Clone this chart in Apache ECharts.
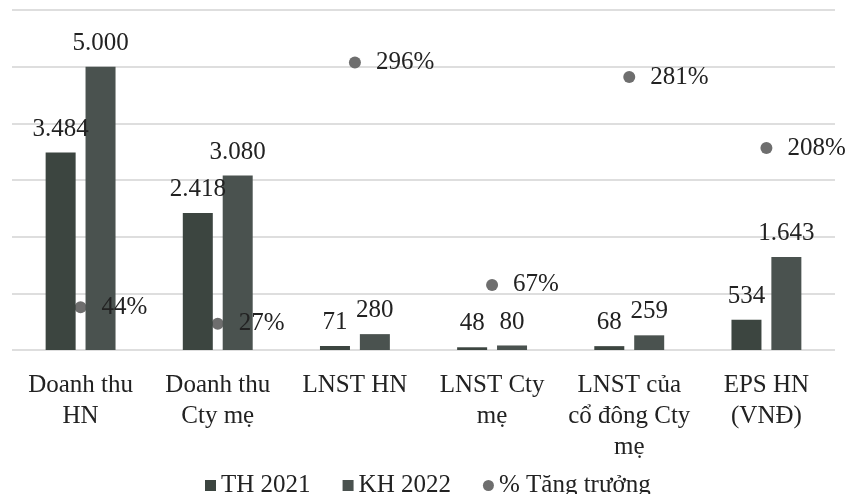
<!DOCTYPE html>
<html><head><meta charset="utf-8">
<script src="https://cdn.jsdelivr.net/npm/echarts@6/dist/echarts.min.js"></script>
<style>html,body{margin:0;padding:0;background:#fff}#c{width:857px;height:494px}</style>
</head><body><div id="c"></div>
<script>
const categories = ['Doanh thu\nHN','Doanh thu\nCty mẹ','LNST HN','LNST Cty\nmẹ','LNST của\ncổ đông Cty\nmẹ','EPS HN\n(VNĐ)'];
const th2021 = [3484, 2418, 71, 48, 68, 534];
const kh2022 = [5000, 3080, 280, 80, 259, 1643];
const growth = [44, 27, 296, 67, 281, 208];
const legendNames = ['TH 2021', 'KH 2022', '% Tăng trưởng'];

const FONT = '"Liberation Serif", "DejaVu Serif", serif';
const fmt = v => String(v).replace(/\B(?=(\d{3})+(?!\d))/g, '.');
const chart = echarts.init(document.getElementById('c'));
const barLabel = {
  show: true, position: 'top', distance: 11,
  fontFamily: FONT, fontSize: 25, color: '#222',
  formatter: p => fmt(p.value)
};
chart.setOption({
  animation: false,
  backgroundColor: '#fff',
  textStyle: { fontFamily: FONT },
  grid: { left: 12, right: 22, top: 10, bottom: 144 },
  legend: {
    data: [
      { name: legendNames[0], icon: 'rect' },
      { name: legendNames[1], icon: 'rect' },
      { name: legendNames[2], icon: 'circle' }
    ],
    top: 468, left: 200,
    itemWidth: 11, itemHeight: 11, itemGap: 32,
    textStyle: { fontFamily: FONT, fontSize: 25, color: '#222' }
  },
  xAxis: {
    type: 'category', data: categories,
    axisLine: { show: false }, axisTick: { show: false },
    axisLabel: { interval: 0, margin: 20, fontFamily: FONT, fontSize: 25, lineHeight: 31, color: '#222' }
  },
  yAxis: [
    { type: 'value', min: 0, max: 6000, interval: 1000,
      axisLabel: { show: false }, axisLine: { show: false }, axisTick: { show: false },
      splitLine: { lineStyle: { color: '#d3d3d3', width: 1.5 } } },
    { type: 'value', min: 0, max: 350, interval: 50, show: false,
      splitLine: { show: false } }
  ],
  series: [
    { name: legendNames[2], type: 'scatter', yAxisIndex: 1, data: growth, z: 1,
      symbolSize: 12, itemStyle: { color: '#6e6e6e', opacity: 1 } },
    { name: legendNames[0], type: 'bar', data: th2021, z: 2,
      barWidth: 30, barGap: '33%', itemStyle: { color: '#3c4540' }, label: barLabel },
    { name: legendNames[1], type: 'bar', data: kh2022, z: 2,
      barWidth: 30, itemStyle: { color: '#4a524f' }, label: barLabel },
    { name: 'growthLabels', type: 'scatter', yAxisIndex: 1, data: growth, z: 5,
      symbolSize: 12, itemStyle: { color: 'rgba(0,0,0,0)', opacity: 1 }, silent: true,
      label: { show: true, position: 'right', distance: 15, fontFamily: FONT, fontSize: 25, color: '#222',
        formatter: p => p.value + '%' } }
  ]
});
</script></body></html>
